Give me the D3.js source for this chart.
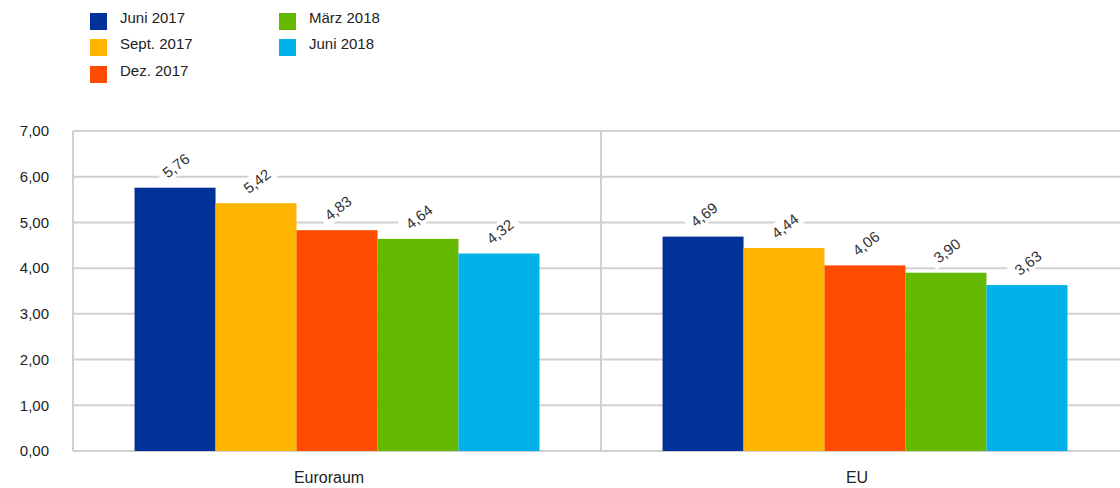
<!DOCTYPE html>
<html><head><meta charset="utf-8">
<script src="https://cdn.jsdelivr.net/npm/d3@7"></script>
<style>body{margin:0;background:#fff;}svg{display:block;font-family:"Liberation Sans",Arial,sans-serif;}</style>
</head><body>
<svg id="c" width="1120" height="488"></svg>
<script>
const categories = ["Euroraum", "EU"];
const seriesNames = ["Juni 2017", "Sept. 2017", "Dez. 2017", "März 2018", "Juni 2018"];
const seriesColors = ["#003299", "#FFB400", "#FF4B00", "#65B800", "#00B1EA"];
const euroraumValues = [5.76, 5.42, 4.83, 4.64, 4.32];
const euValues = [4.69, 4.44, 4.06, 3.90, 3.63];
const yTicks = [0, 1, 2, 3, 4, 5, 6, 7];

const values = [euroraumValues, euValues];
const fmt = v => v.toFixed(2).replace(".", ",");

const svg = d3.select("#c");
const m = {left: 73, right: 1129, top: 131, bottom: 451};

const x0 = d3.scaleBand().domain(categories).range([m.left, m.right]).paddingInner(0).paddingOuter(0);
const x1 = d3.scaleBand().domain(seriesNames).range([0, x0.bandwidth()]).paddingOuter(0.76).paddingInner(0);
const y = d3.scaleLinear().domain([0, 7]).range([m.bottom, m.top]);

// gridlines
svg.append("g").selectAll("line").data(yTicks).join("line")
  .attr("x1", m.left).attr("x2", m.right)
  .attr("y1", d => y(d)).attr("y2", d => y(d))
  .attr("stroke", "#d0d0d0").attr("stroke-width", 2);
// vertical separators
const seps = [m.left, x0(categories[1])];
svg.append("g").selectAll("line").data(seps).join("line")
  .attr("x1", d => d).attr("x2", d => d)
  .attr("y1", m.top).attr("y2", m.bottom)
  .attr("stroke", "#d0d0d0").attr("stroke-width", 2);

// y tick labels
svg.append("g").selectAll("text").data(yTicks).join("text")
  .attr("x", 49).attr("y", d => y(d)).attr("dy", "0.35em")
  .attr("text-anchor", "end").attr("font-size", 15).attr("fill", "#222")
  .text(fmt);

// bars
const groups = svg.append("g").selectAll("g").data(categories).join("g")
  .attr("transform", d => `translate(${x0(d)},0)`);
groups.selectAll("rect").data((c, i) => values[i].map((v, j) => ({v, s: seriesNames[j], col: seriesColors[j]})))
  .join("rect")
  .attr("x", d => x1(d.s)).attr("width", x1.bandwidth())
  .attr("y", d => y(d.v)).attr("height", d => y(0) - y(d.v))
  .attr("fill", d => d.col);

// value labels (rotated, white box)
const lab = groups.selectAll("g.lab").data((c, i) => values[i].map((v, j) => ({v, s: seriesNames[j]})))
  .join("g").attr("class", "lab")
  .attr("transform", d => `translate(${x1(d.s) + x1.bandwidth() / 2 + 1},${y(d.v) - 22}) rotate(-38)`);
lab.append("rect").attr("x", -20).attr("y", -9).attr("width", 40).attr("height", 18).attr("fill", "#fff");
lab.append("text").attr("text-anchor", "middle").attr("dy", "0.35em")
  .attr("font-size", 15).attr("fill", "#333").text(d => fmt(d.v));

// category labels
svg.append("g").selectAll("text").data(categories).join("text")
  .attr("x", d => x0(d) + x0.bandwidth() / 2 - 8).attr("y", 477).attr("dy", "0.35em")
  .attr("text-anchor", "middle").attr("font-size", 16).attr("fill", "#222").text(d => d);

// legend
const legPos = [[90, 21], [90, 47], [90, 74], [279, 21], [279, 47]];
const leg = svg.append("g").selectAll("g").data(seriesNames).join("g")
  .attr("transform", (d, i) => `translate(${legPos[i][0]},${legPos[i][1]})`);
leg.append("rect").attr("x", 0).attr("y", -8).attr("width", 17).attr("height", 17)
  .attr("fill", (d, i) => seriesColors[i]);
leg.append("text").attr("x", 30).attr("y", -3).attr("dy", "0.35em")
  .attr("font-size", 15).attr("fill", "#222").text(d => d);
</script>
</body></html>
